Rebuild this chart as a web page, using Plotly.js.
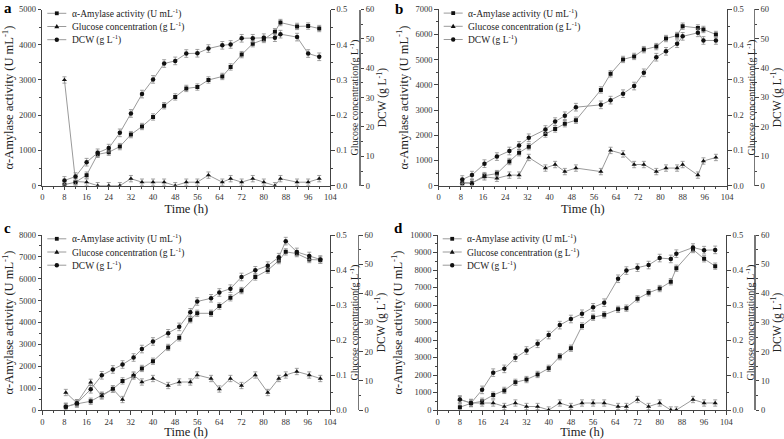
<!DOCTYPE html>
<html>
<head>
<meta charset="utf-8">
<script src="https://cdn.plot.ly/plotly-3.0.1.min.js"></script>
<style>html,body{margin:0;padding:0;background:#fff;}#chart{width:784px;height:439px;}</style>
</head>
<body>
<div id="chart"></div>
<script>
// ---------- data ----------
var timeA = [8,12,16,20,24,28,32,36,40,44,48,52,56,60,65,68,72,76,80,84,86,92,96,100];
var amyA  = [30,100,300,890,950,1110,1450,1680,1950,2270,2520,2760,2800,3000,3100,3370,3720,4030,4150,4370,4630,4520,4530,4460];
var gluA  = [0.30,0.012,0.01,0,0,0,0.02,0.01,0.01,0.01,0,0.01,0.01,0.03,0.01,0.02,0.01,0.02,0.01,0,0.02,0.01,0.01,0.02];
var dcwA  = [1.8,3.1,8.0,11.2,12.8,18.0,24.6,31.2,36.2,41.6,42.5,45.0,45.1,46.7,47.8,48.1,50.2,50.2,50.4,50.4,51.6,50.6,45.0,43.9];

var timeB = [8.5,12,16.5,21,25.5,29,32.5,38.5,42,45.5,49.5,58.5,62,66.5,70.5,74,78.5,82,86,88,93.5,95.5,100];
var amyB  = [100,100,400,480,960,1310,1550,2050,2250,2460,2600,3800,4440,5010,5130,5400,5520,5840,5960,6330,6260,6200,6000];
var gluB  = [0.009,0.008,0.025,0.021,0.03,0.03,0.08,0.05,0.06,0.04,0.05,0.04,0.10,0.09,0.06,0.06,0.04,0.05,0.05,0.06,0.03,0.07,0.08];
var dcwB  = [2.1,3.6,7.5,9.9,11.8,13.7,16.3,19.1,21.8,23.8,26.7,27.5,29.1,31.3,33.9,38.4,43.7,45.7,48.3,50.8,52.0,49.4,49.4];

var timeC = [8.5,12.5,17.5,21.5,25.5,29,33,36,40,45.5,49.5,53.5,56,61,64,68,72,77,81.5,85.5,88,92,96.5,100.5];
var amyC  = [150,280,400,680,960,1330,1550,1900,2230,2860,3300,4130,4420,4420,4750,5130,5460,6080,6390,6830,7230,7150,6880,6860];
var gluC  = [0.05,0.02,0.079,0.04,0.06,0.03,0.10,0.08,0.09,0.07,0.08,0.08,0.10,0.09,0.06,0.09,0.07,0.10,0.05,0.09,0.10,0.11,0.10,0.09];
var dcwC  = [1.1,2.3,7.1,11.9,13.9,15.6,18.0,20.9,23.5,26.3,28.5,33.5,37.2,38.3,40.3,41.6,45.6,47.9,49.5,52.4,57.9,54.2,52.8,51.6];

var timeD = [8,12,16,20,24,28,32,36,40,44,48,52,56,60,65,68,72,76,80,84,86,92,96,100];
var amyD  = [160,380,500,850,1120,1580,1740,2030,2380,3050,3530,4800,5300,5440,5750,5820,6350,6700,6940,7330,8100,9170,8640,8220];
var gluD  = [0.03,0.02,0.02,0.02,0.01,0.02,0.01,0.01,0,0.02,0.01,0.02,0.02,0.02,0.01,0.01,0.03,0.01,0.02,0,0,0.03,0.02,0.02];
var dcwD  = [3.6,2.4,6.9,12.8,14.1,17.9,20.4,22.7,25.7,29.1,31.2,33.0,35.2,36.8,45.0,47.8,48.8,49.7,52.1,51.8,53.6,55.7,54.8,54.9];

var panelLabels = ['a','b','c','d'];
var amyMax = [5000,7000,8000,10000];
var xTicks = [0,8,16,24,32,40,48,56,64,72,80,88,96,104];
var names = ['α-Amylase activity (U mL<sup>-1</sup>)','Glucose concentration (g L<sup>-1</sup>)','DCW (g L<sup>-1</sup>)'];
var symbols = ['square','triangle-up','circle'];

// ---------- layout geometry ----------
var W = 784, H = 439;
var panels = [
  {t: timeA, amy: amyA, glu: gluA, dcw: dcwA, x0: 42.3, x1: 330.3, yt: 9.5, yb: 185.7, dcwPos: 359, lab: [8, 8]},
  {t: timeB, amy: amyB, glu: gluB, dcw: dcwB, x0: 438.7, x1: 727, yt: 9.3, yb: 185.7, dcwPos: 753.7, lab: [399, 9]},
  {t: timeC, amy: amyC, glu: gluC, dcw: dcwC, x0: 42.3, x1: 330, yt: 235, yb: 410, dcwPos: 357.7, lab: [8, 228]},
  {t: timeD, amy: amyD, glu: gluD, dcw: dcwD, x0: 437.7, x1: 726.3, yt: 235, yb: 410, dcwPos: 754.3, lab: [398, 228]}
];

var FONT = 'Liberation Serif, Times New Roman, serif';
var lineCol = '#9a9a9a', mkCol = '#111', axCol = '#444', errCol = '#8a8a8a';

var data = [];
var layout = {
  width: W, height: H,
  margin: {l: 0, r: 0, t: 0, b: 0},
  paper_bgcolor: '#fff', plot_bgcolor: 'rgba(0,0,0,0)',
  font: {family: FONT, color: '#333', size: 9},
  showlegend: false,
  annotations: [],
  shapes: []
};

function px(x) { return x / W; }
function py(y) { return 1 - y / H; }

function axisBase() {
  return {
    showgrid: false, zeroline: false, showline: true, linecolor: axCol, linewidth: 1,
    ticks: 'outside', ticklen: 3.5, tickwidth: 1, tickcolor: axCol,
    tickfont: {family: FONT, size: 8.5, color: '#333'}
  };
}

panels.forEach(function (p, i) {
  var n = i + 1;
  var xa = n === 1 ? 'x' : 'x' + n;
  var xk = n === 1 ? 'xaxis' : 'xaxis' + n;
  var ya = 3 * i + 1, yg = 3 * i + 2, yd = 3 * i + 3;
  var yaName = ya === 1 ? 'y' : 'y' + ya;
  var yaKey = ya === 1 ? 'yaxis' : 'yaxis' + ya;
  var errAmy = amyMax[i] * 0.018;

  data.push({
    x: p.t, y: p.amy, xaxis: xa, yaxis: yaName, type: 'scatter', mode: 'lines+markers',
    name: names[0], line: {color: lineCol, width: 1},
    marker: {symbol: 'square', size: 4, color: mkCol},
    error_y: {type: 'constant', value: errAmy, color: errCol, thickness: 0.8, width: 2}
  });
  data.push({
    x: p.t, y: p.glu, xaxis: xa, yaxis: 'y' + yg, type: 'scatter', mode: 'lines+markers',
    name: names[1], line: {color: lineCol, width: 1},
    marker: {symbol: 'triangle-up', size: 4.5, color: mkCol},
    error_y: {type: 'constant', value: 0.009, color: errCol, thickness: 0.8, width: 2}
  });
  data.push({
    x: p.t, y: p.dcw, xaxis: xa, yaxis: 'y' + yd, type: 'scatter', mode: 'lines+markers',
    name: names[2], line: {color: lineCol, width: 1},
    marker: {symbol: 'circle', size: 4.5, color: mkCol},
    error_y: {type: 'constant', value: 1.3, color: errCol, thickness: 0.8, width: 2}
  });

  var yDom = [py(p.yb), py(p.yt)];
  var xDom = [px(p.x0), px(p.x1)];

  layout[xk] = Object.assign(axisBase(), {
    domain: xDom, anchor: yaName, range: [0, 104],
    tickmode: 'array', tickvals: xTicks,
    minor: {dtick: 4, tick0: 0, ticks: 'outside', ticklen: 2, tickcolor: axCol},
    title: {text: 'Time (h)', font: {family: FONT, size: 12.5, color: '#222'}, standoff: 2}
  });
  layout[yaKey] = Object.assign(axisBase(), {
    domain: yDom, anchor: xa, range: [0, amyMax[i]], dtick: 1000, tickformat: 'd', side: 'left',
    minor: {dtick: 500, ticks: 'outside', ticklen: 2, tickcolor: axCol},
    title: {text: 'α-Amylase activity (U mL<sup>-1</sup>)', font: {family: FONT, size: 12.5, color: '#222'}, standoff: 4}
  });
  layout['yaxis' + yg] = Object.assign(axisBase(), {
    overlaying: yaName, anchor: xa, side: 'right', range: [0, 0.5], dtick: 0.1, tickformat: '.1f',
    minor: {dtick: 0.05, ticks: 'outside', ticklen: 2, tickcolor: axCol},
    title: {text: 'Glucose concentration(g L<sup>-1</sup>)', font: {family: FONT, size: 10, color: '#222'}, standoff: 0}
  });
  layout['yaxis' + yd] = Object.assign(axisBase(), {
    overlaying: yaName, anchor: 'free', position: px(p.dcwPos), side: 'right', range: [0, 60], dtick: 10,
    linecolor: '#777', linewidth: 1.5,
    minor: {dtick: 5, ticks: 'outside', ticklen: 2, tickcolor: axCol},
    title: {text: 'DCW (g L<sup>-1</sup>)', font: {family: FONT, size: 11.5, color: '#222'}, standoff: 5}
  });

  // compact legend drawn with shapes + annotations (paper coordinates)
  for (var k = 0; k < 3; k++) {
    var ry = p.yt + 3.8 + 13.2 * k;
    var lx0 = p.x0 + 5, lx1 = p.x0 + 24, mx = p.x0 + 14.5;
    layout.shapes.push({type: 'line', xref: 'paper', yref: 'paper',
      x0: px(lx0), x1: px(lx1), y0: py(ry), y1: py(ry), line: {color: lineCol, width: 1}});
    if (symbols[k] === 'square') {
      layout.shapes.push({type: 'rect', xref: 'paper', yref: 'paper',
        x0: px(mx - 1.9), x1: px(mx + 1.9), y0: py(ry + 1.9), y1: py(ry - 1.9),
        fillcolor: mkCol, line: {width: 0}});
    } else if (symbols[k] === 'circle') {
      layout.shapes.push({type: 'circle', xref: 'paper', yref: 'paper',
        x0: px(mx - 2.2), x1: px(mx + 2.2), y0: py(ry + 2.2), y1: py(ry - 2.2),
        fillcolor: mkCol, line: {width: 0}});
    } else {
      layout.shapes.push({type: 'path', xref: 'paper', yref: 'paper',
        path: 'M ' + px(mx) + ',' + py(ry - 2.6) + ' L ' + px(mx + 2.5) + ',' + py(ry + 1.8) +
              ' L ' + px(mx - 2.5) + ',' + py(ry + 1.8) + ' Z',
        fillcolor: mkCol, line: {width: 0}});
    }
    layout.annotations.push({
      text: names[k], xref: 'paper', yref: 'paper', x: px(p.x0 + 27.5), y: py(ry),
      xanchor: 'left', yanchor: 'middle', showarrow: false,
      font: {family: FONT, size: 9.5, color: '#222'}
    });
  }

  layout.annotations.push({
    text: '<b>' + panelLabels[i] + '</b>', xref: 'paper', yref: 'paper',
    x: px(p.lab[0]), y: py(p.lab[1]), xanchor: 'center', yanchor: 'middle',
    showarrow: false, font: {family: FONT, size: 15, color: '#000'}
  });
});

Plotly.newPlot('chart', data, layout, {staticPlot: true, displayModeBar: false});
</script>
</body>
</html>
